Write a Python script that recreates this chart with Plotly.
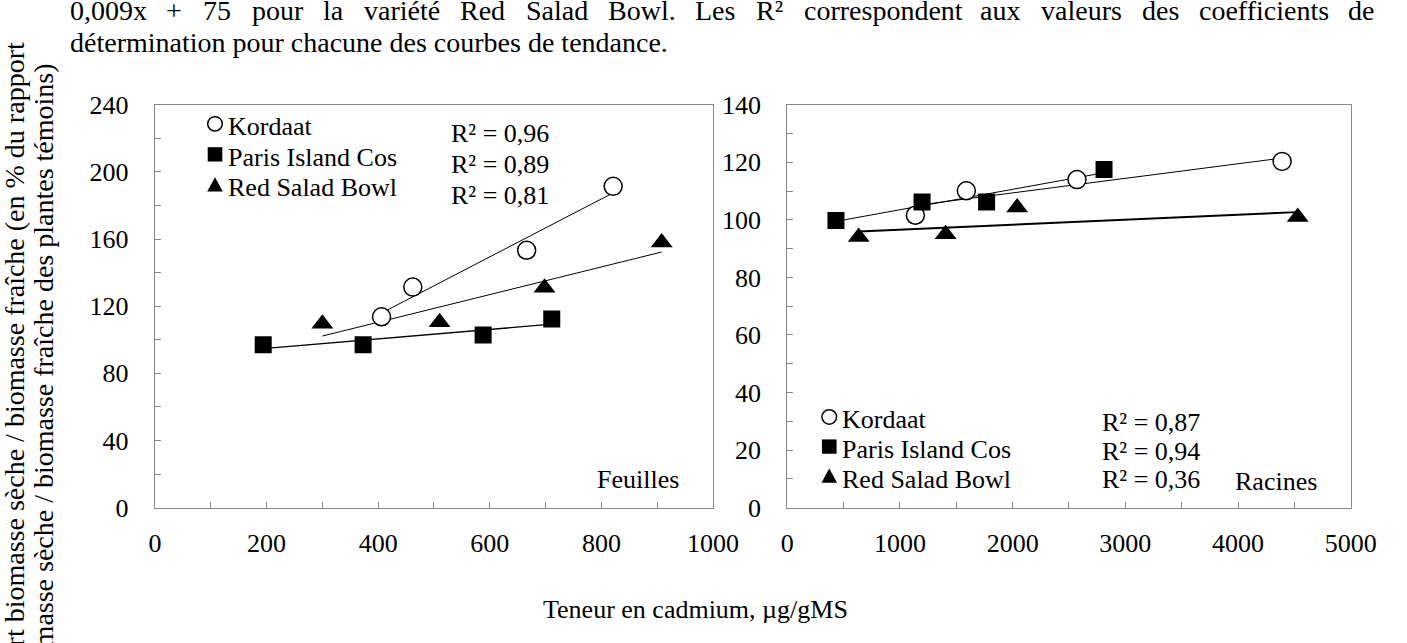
import numpy as np
import plotly.graph_objects as go

W, H = 1407, 643

# ---- data: leaves (Feuilles) ----
kordaat_f_x = [406, 462, 666, 821]
kordaat_f_y = [113.7, 131.4, 153.3, 191.4]
paris_f_x = [194, 373, 588, 711]
paris_f_y = [97.1, 97.1, 102.9, 112.4]
rsb_f_x = [300, 510, 698, 908]
rsb_f_y = [109.5, 110.5, 131.0, 158.0]

# ---- data: roots (Racines) ----
kordaat_r_x = [1137, 1589, 2571, 4391]
kordaat_r_y = [101.6, 110.1, 114.0, 120.3]
paris_r_x = [432, 1196, 1769, 2811]
paris_r_y = [99.8, 106.2, 106.2, 117.5]
rsb_r_x = [634, 1405, 2040, 4530]
rsb_r_y = [94.0, 95.0, 104.3, 101.0]

varieties = ["Kordaat", "Paris Island Cos", "Red Salad Bowl"]
r2_feuilles = ["R² = 0,96", "R² = 0,89", "R² = 0,81"]
r2_racines = ["R² = 0,87", "R² = 0,94", "R² = 0,36"]

FONT = "Liberation Serif, Times New Roman, serif"
GRAY = "#898989"
FS = 26      # chart text size
BODY = 28    # caption text size


def px(x):
    return x / W


def py(y):
    return 1 - y / H


fig = go.Figure()

marker_styles = [
    dict(symbol="circle", size=18, color="white", line=dict(color="black", width=1.5)),
    dict(symbol="square", size=17, color="black", line=dict(width=0)),
    dict(symbol="triangle-up", size=19, color="black", line=dict(width=0)),
]


def add_panel(series, xa, ya, trend_widths):
    for (xs, ys), tw in zip(series, trend_widths):
        k, b = np.polyfit(xs, ys, 1)
        xl = np.array([min(xs), max(xs)])
        fig.add_trace(go.Scatter(x=xl, y=k * xl + b, mode="lines",
                                 line=dict(color="black", width=tw),
                                 xaxis=xa, yaxis=ya, showlegend=False,
                                 hoverinfo="skip"))
    for (xs, ys), ms in zip(series, marker_styles):
        fig.add_trace(go.Scatter(x=xs, y=ys, mode="markers", marker=ms,
                                 xaxis=xa, yaxis=ya, showlegend=False))


add_panel([(kordaat_f_x, kordaat_f_y), (paris_f_x, paris_f_y), (rsb_f_x, rsb_f_y)],
          "x", "y", [1, 1.3, 1])
add_panel([(kordaat_r_x, kordaat_r_y), (paris_r_x, paris_r_y), (rsb_r_x, rsb_r_y)],
          "x2", "y2", [1, 1, 2])

ydom = [py(517), py(95)]
axis_common = dict(showline=True, linecolor=GRAY, linewidth=1.3, mirror=True,
                   ticks="inside", ticklen=6, tickcolor=GRAY, tickwidth=1.3,
                   showgrid=False, zeroline=False,
                   tickfont=dict(family=FONT, size=FS, color="black"))

fig.update_layout(
    width=W, height=H,
    margin=dict(l=0, r=0, t=0, b=0),
    paper_bgcolor="white", plot_bgcolor="white",
    xaxis=dict(domain=[px(151.5), px(723)], range=[0, 1000], dtick=200,
               minor=dict(dtick=100, ticks="inside", ticklen=6, tickcolor=GRAY),
               anchor="y", ticklabelstandoff=12, **axis_common),
    yaxis=dict(domain=ydom, range=[0, 240], dtick=40,
               minor=dict(dtick=20, ticks="inside", ticklen=6, tickcolor=GRAY),
               anchor="x", ticklabelstandoff=20, **axis_common),
    xaxis2=dict(domain=[px(799), px(1376)], range=[0, 5000], dtick=1000,
                minor=dict(dtick=500, ticks="inside", ticklen=6, tickcolor=GRAY),
                anchor="y2", ticklabelstandoff=12, **axis_common),
    yaxis2=dict(domain=ydom, range=[0, 140], dtick=20,
                minor=dict(dtick=10, ticks="inside", ticklen=6, tickcolor=GRAY),
                anchor="x2", ticklabelstandoff=20, **axis_common),
)

annotations = []
shapes = []


def text(x, y, s, size=FS, xanchor="left", yanchor="middle", angle=0):
    annotations.append(dict(x=px(x), y=py(y), xref="paper", yref="paper",
                            text=s, showarrow=False, xanchor=xanchor,
                            yanchor=yanchor, textangle=angle,
                            font=dict(family=FONT, size=size, color="black")))


def legend_block(mx, tx, rows, rx, rrows, r2):
    # legend symbols drawn as shapes, labels and R² values as text
    cx = mx
    r = 7.5
    y0 = rows[0] - 3
    shapes.append(dict(type="circle", xref="paper", yref="paper",
                       x0=px(cx - r), x1=px(cx + r), y0=py(y0 + r), y1=py(y0 - r),
                       line=dict(color="black", width=1.5), fillcolor="white"))
    y1 = rows[1] - 3
    shapes.append(dict(type="rect", xref="paper", yref="paper",
                       x0=px(cx - r), x1=px(cx + r), y0=py(y1 + r), y1=py(y1 - r),
                       line=dict(width=0), fillcolor="black"))
    y2 = rows[2] - 3
    path = "M {} {} L {} {} L {} {} Z".format(px(cx - 8), py(y2 + 7),
                                               px(cx + 8), py(y2 + 7),
                                               px(cx), py(y2 - 8))
    shapes.append(dict(type="path", xref="paper", yref="paper", path=path,
                       line=dict(width=0), fillcolor="black"))
    for name, y in zip(varieties, rows):
        text(tx, y, name)
    for s, y in zip(r2, rrows):
        text(rx, y, s)


legend_block(213, 224, [118, 150, 182], 453, [125, 158, 190], r2_feuilles)
legend_block(842, 853, [425, 456, 487], 1119, [428, 458, 487], r2_racines)

text(690, 488, "Feuilles", xanchor="right")
text(1343, 490, "Racines", xanchor="right")
text(705, 624, "Teneur en cadmium, µg/gMS", xanchor="center")

# rotated y-axis title (two lines)
text(8, 384, "Rapport biomasse sèche / biomasse fraîche (en % du rapport",
     size=28, xanchor="center", angle=-90)
text(37, 376, "biomasse sèche / biomasse fraîche des plantes témoins)",
     size=28, xanchor="center", angle=-90)

# caption lines above the charts (first line justified)
line1 = ["0,009x", "+", "75", "pour", "la", "variété", "Red", "Salad", "Bowl.",
         "Les", "R²", "correspondent", "aux", "valeurs", "des", "coefficients", "de"]
em = {"0,009x": 2.75, "+": 0.564, "75": 1.0, "pour": 1.833, "la": 0.722,
      "variété": 2.721, "Red": 1.611, "Salad": 2.222, "Bowl.": 2.417,
      "Les": 1.444, "R²": 0.967, "correspondent": 5.665, "aux": 1.444,
      "valeurs": 2.888, "des": 1.333, "coefficients": 4.665, "de": 0.944}
left_edge, right_edge = 62, 1398
natural = sum(em[w] for w in line1) * BODY
gap = (right_edge - left_edge - natural) / (len(line1) - 1)
xpos = left_edge
for w in line1:
    text(xpos, -4, w, size=BODY)
    xpos += em[w] * BODY + gap
text(62, 30, "détermination pour chacune des courbes de tendance.", size=BODY)

fig.update_layout(annotations=annotations, shapes=shapes)
fig.write_html("out.html")
